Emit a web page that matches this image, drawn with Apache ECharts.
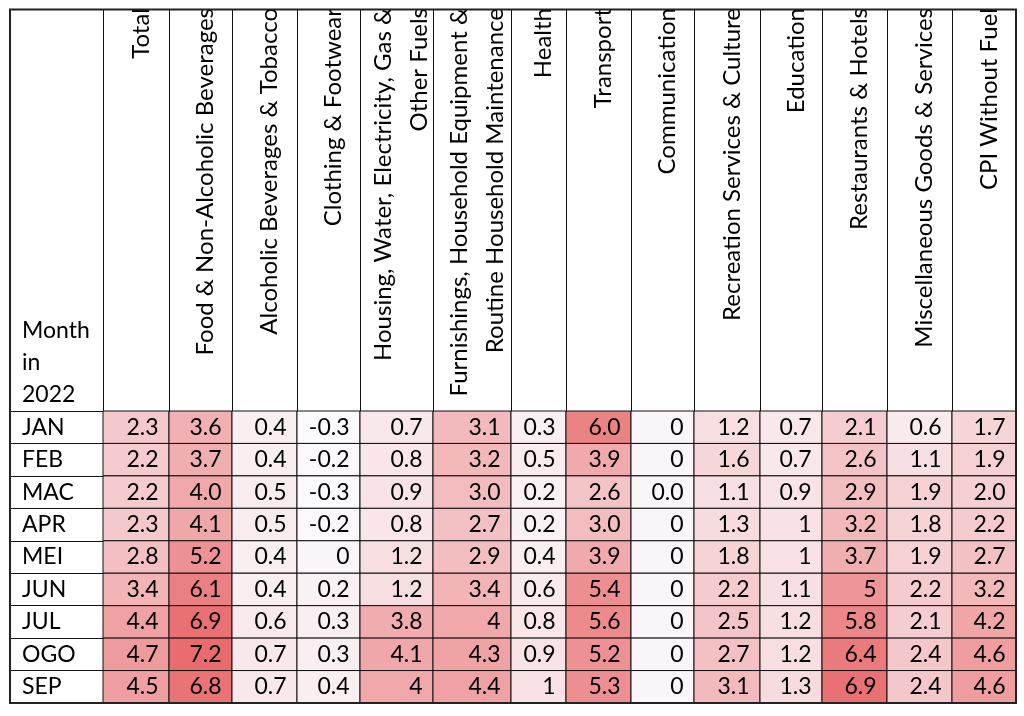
<!DOCTYPE html>
<html>
<head>
<meta charset="utf-8">
<script src="https://cdn.jsdelivr.net/npm/echarts@6/dist/echarts.min.js"></script>
<style>
	html, body { margin: 0; padding: 0; background: #fff; }
	#main { width: 1024px; height: 716px; }
</style>
</head>
<body>
<div id="main"></div>
<script>
	var months = ['JAN', 'FEB', 'MAC', 'APR', 'MEI', 'JUN', 'JUL', 'OGO', 'SEP'];
	var categories = [
		'Total',
		'Food & Non-Alcoholic Beverages',
		'Alcoholic Beverages & Tobacco',
		'Clothing & Footwear',
		'Housing, Water, Electricity, Gas &\nOther Fuels',
		'Furnishings, Household Equipment &\nRoutine Household Maintenance',
		'Health',
		'Transport',
		'Communication',
		'Recreation Services & Culture',
		'Education',
		'Restaurants & Hotels',
		'Miscellaneous Goods & Services',
		'CPI Without Fuel'
	];

	// values as printed in the table (text, so "4" and "4.0" stay as shown)
	var jan = ['2.3', '3.6', '0.4', '-0.3', '0.7', '3.1', '0.3', '6.0', '0', '1.2', '0.7', '2.1', '0.6', '1.7'];
	var feb = ['2.2', '3.7', '0.4', '-0.2', '0.8', '3.2', '0.5', '3.9', '0', '1.6', '0.7', '2.6', '1.1', '1.9'];
	var mac = ['2.2', '4.0', '0.5', '-0.3', '0.9', '3.0', '0.2', '2.6', '0.0', '1.1', '0.9', '2.9', '1.9', '2.0'];
	var apr = ['2.3', '4.1', '0.5', '-0.2', '0.8', '2.7', '0.2', '3.0', '0', '1.3', '1', '3.2', '1.8', '2.2'];
	var mei = ['2.8', '5.2', '0.4', '0', '1.2', '2.9', '0.4', '3.9', '0', '1.8', '1', '3.7', '1.9', '2.7'];
	var jun = ['3.4', '6.1', '0.4', '0.2', '1.2', '3.4', '0.6', '5.4', '0', '2.2', '1.1', '5', '2.2', '3.2'];
	var jul = ['4.4', '6.9', '0.6', '0.3', '3.8', '4', '0.8', '5.6', '0', '2.5', '1.2', '5.8', '2.1', '4.2'];
	var ogo = ['4.7', '7.2', '0.7', '0.3', '4.1', '4.3', '0.9', '5.2', '0', '2.7', '1.2', '6.4', '2.4', '4.6'];
	var sep = ['4.5', '6.8', '0.7', '0.4', '4', '4.4', '1', '5.3', '0', '3.1', '1.3', '6.9', '2.4', '4.6'];
	var rows = [jan, feb, mac, apr, mei, jun, jul, ogo, sep];

	// column widths of the table (px), the columns are not all the same
	var colWidths = [66, 63, 65, 63, 73, 78, 55, 65, 63, 66, 62, 65, 65, 64];

	var edges = [0];
	colWidths.forEach(function (w, i) { edges.push(edges[i] + w); });
	var centers = colWidths.map(function (w, i) { return edges[i] + w / 2 + 5; });

	var cells = [];
	rows.forEach(function (row, r) {
		row.forEach(function (txt, c) {
			cells.push([c, r, parseFloat(txt), txt]);
		});
	});

	var font = 'Lato';
	var myChart = echarts.init(document.getElementById('main'));

	var option = {
		animation: false,
		grid: {
			left: 103, top: 411, width: edges[edges.length - 1], height: 292,
			containLabel: false,
			outerBoundsMode: 'none'
		},
		visualMap: {
			show: false,
			type: 'continuous',
			dimension: 2,
			min: -0.3,
			max: 7.2,
			inRange: { color: ['#fbfbfe', '#e86b6d'] }
		},
		xAxis: {
			type: 'value',
			position: 'top',
			min: 0,
			max: edges[edges.length - 1],
			splitLine: { show: false },
			axisLine: { show: true, lineStyle: { color: '#111', width: 1 } },
			axisTick: {
				show: true,
				customValues: edges,
				length: 401,
				lineStyle: { color: '#111', width: 1 }
			},
			axisLabel: {
				customValues: centers,
				rotate: -90,
				align: 'right',
				verticalAlign: 'middle',
				margin: 403,
				fontFamily: font,
				fontSize: 24,
				lineHeight: 36,
				color: '#000',
				formatter: function (v) {
					for (var i = 0; i < centers.length; i++) {
						if (Math.abs(centers[i] - v) < 0.01) return categories[i];
					}
					return '';
				}
			}
		},
		yAxis: {
			type: 'category',
			data: months,
			inverse: true,
			axisLine: { show: true, lineStyle: { color: '#111', width: 1 } },
			axisTick: { show: true, length: 93, lineStyle: { color: '#111', width: 1 } },
			axisLabel: {
				align: 'left',
				margin: 81,
				fontFamily: font,
				fontSize: 23,
				color: '#000'
			}
		},
		graphic: [
			{
				type: 'text',
				z: 100,
				style: {
					x: 22, y: 411,
					text: 'Month\nin\n2022',
					font: '23px Lato',
					lineHeight: 32,
					fill: '#000',
					verticalAlign: 'bottom'
				}
			},
			{
				type: 'rect',
				z: 100,
				shape: { x: 0, y: 0, width: 1024, height: 9 },
				style: { fill: '#fff' }
			},
			{
				type: 'rect',
				z: 101,
				shape: { x: 10, y: 9.5, width: 1006, height: 693.5 },
				style: { fill: 'none', stroke: '#222', lineWidth: 2 }
			}
		],
		series: [{
			type: 'custom',
			data: cells,
			encode: { x: 0, y: 1 },
			renderItem: function (params, api) {
				var c = api.value(0), r = api.value(1);
				var a = api.coord([edges[c], r]);
				var b = api.coord([edges[c + 1], r]);
				var h = api.size([0, 1])[1];
				return {
					type: 'rect',
					shape: { x: a[0], y: a[1] - h / 2, width: b[0] - a[0], height: h },
					style: { fill: api.visual('color'), stroke: '#111', lineWidth: 1 },
					textContent: {
						style: { text: cells[params.dataIndex][3], font: '23px Lato', fill: '#000' }
					},
					textConfig: { position: 'insideRight', distance: 11 }
				};
			}
		}]
	};

	myChart.setOption(option);
</script>
</body>
</html>
